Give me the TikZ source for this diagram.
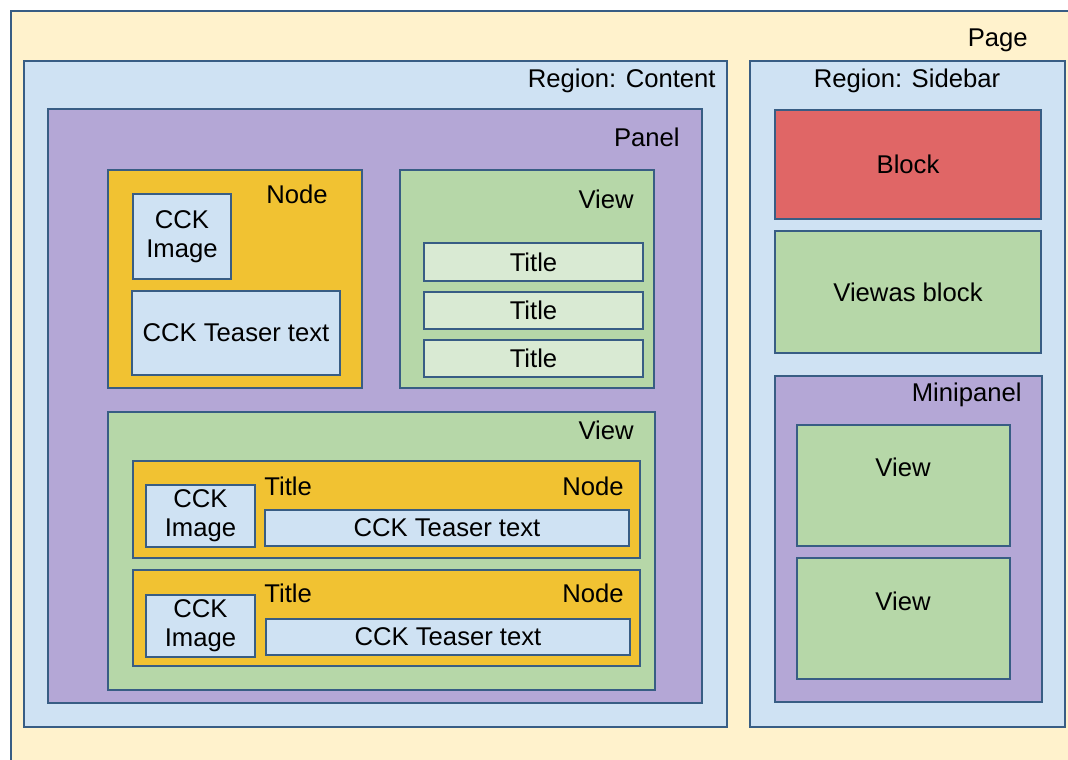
\documentclass[tikz,border=0pt]{standalone}
\usepackage{fontspec}
\setmainfont{Liberation Sans}
\usetikzlibrary{positioning, fit}
\definecolor{edgeblue}{HTML}{385D84}
\definecolor{pagey}{HTML}{FFF2CC}
\definecolor{regblue}{HTML}{CFE2F3}
\definecolor{panelp}{HTML}{B4A7D6}
\definecolor{nodeo}{HTML}{F1C232}
\definecolor{viewg}{HTML}{B6D7A8}
\definecolor{titleg}{HTML}{D9EAD3}
\definecolor{blockr}{HTML}{E06666}
\tikzset{txt/.style={font=\fontsize{14.6}{16.5}\selectfont, inner sep=0pt, align=center}}

\begin{document}
\begin{tikzpicture}[x=0.02cm, y=-0.02cm]
\tikzset{
  base/.style={draw=edgeblue, line width=1.3pt, inner sep=0pt},
  pg/.style={base, fill=pagey},
  rg/.style={base, fill=regblue},
  pn/.style={base, fill=panelp},
  nd/.style={base, fill=nodeo},
  vw/.style={base, fill=viewg},
  tt/.style={base, fill=titleg},
  bk/.style={base, fill=blockr},
}

\useasboundingbox (0,0) rectangle (1068,760);
\fill[white] (0,0) rectangle (1068,760);

% page and regions
\node[pg, fit={(11,11) (1085,775)}] (page) {};
\node[txt, anchor=mid east] (pagelbl) at (1028,42) {Page};

\node[rg, fit={(24,61) (727,727)}] (content) {};
\node[txt, anchor=mid east] (contentlbl) at (716,83) {Region: Content};
\node[rg, fit={(750,61) (1065,727)}] (sidebar) {};
\node[txt, anchor=mid] (sidebarlbl) at (907,83) {Region: Sidebar};

% content panel
\node[pn, fit={(48,109) (702,703)}] (panel) {};
\node[txt, anchor=mid east] (panellbl) at (680,142) {Panel};

\node[nd, fit={(108,170) (362,388)}] (node1) {};
\node[txt, anchor=mid east] (node1lbl) at (328,199) {Node};
\node[rg, fit={(133,194) (231,279)}] (img1) {};
\node[txt] (img1lbl) at (img1) {CCK\\Image};
\node[rg, fit={(132,291) (340,375)}] (teaser1) {};
\node[txt] (teaser1lbl) at (teaser1) {CCK Teaser text};

\node[vw, fit={(400,170) (654,388)}] (view1) {};
\node[txt, anchor=mid east] (view1lbl) at (634,204) {View};
\node[tt, fit={(424,243) (643,281)}] (title1) {};
\node[txt] (title1lbl) at (title1) {Title};
\node[tt, fit={(424,292) (643,329)}] (title2) {};
\node[txt] (title2lbl) at (title2) {Title};
\node[tt, fit={(424,340) (643,377)}] (title3) {};
\node[txt] (title3lbl) at (title3) {Title};

\node[vw, fit={(108,412) (655,690)}] (view2) {};
\node[txt, anchor=mid east] (view2lbl) at (634,435) {View};

\node[nd, fit={(133,461) (640,558)}] (node2) {};
\node[txt, anchor=mid west] (node2title) at (264,491) {Title};
\node[txt, anchor=mid east] (node2lbl) at (624,491) {Node};
\node[rg, fit={(146,485) (255,547)}] (img2) {};
\node[txt] (img2lbl) at (img2) {CCK\\Image};
\node[rg, fit={(265,510) (629,546)}] (teaser2) {};
\node[txt] (teaser2lbl) at (teaser2) {CCK Teaser text};

\node[nd, fit={(133,570) (640,666)}] (node3) {};
\node[txt, anchor=mid west] (node3title) at (264,598) {Title};
\node[txt, anchor=mid east] (node3lbl) at (624,598) {Node};
\node[rg, fit={(146,595) (255,657)}] (img3) {};
\node[txt] (img3lbl) at (img3) {CCK\\Image};
\node[rg, fit={(266,619) (630,655)}] (teaser3) {};
\node[txt] (teaser3lbl) at (teaser3) {CCK Teaser text};

% sidebar
\node[bk, fit={(775,110) (1041,219)}] (block) {};
\node[txt] (blocklbl) at (block) {Block};
\node[vw, fit={(775,231) (1041,353)}] (vblock) {};
\node[txt] (vblocklbl) at (vblock) {Viewas block};

\node[pn, fit={(775,376) (1042,702)}] (mini) {};
\node[txt, anchor=mid east] (minilbl) at (1022,397) {Minipanel};
\node[vw, fit={(797,425) (1010,546)}] (mview1) {};
\node[txt, anchor=mid] (mview1lbl) at (903,472) {View};
\node[vw, fit={(797,558) (1010,679)}] (mview2) {};
\node[txt, anchor=mid] (mview2lbl) at (903,606) {View};
\end{tikzpicture}
\end{document}
